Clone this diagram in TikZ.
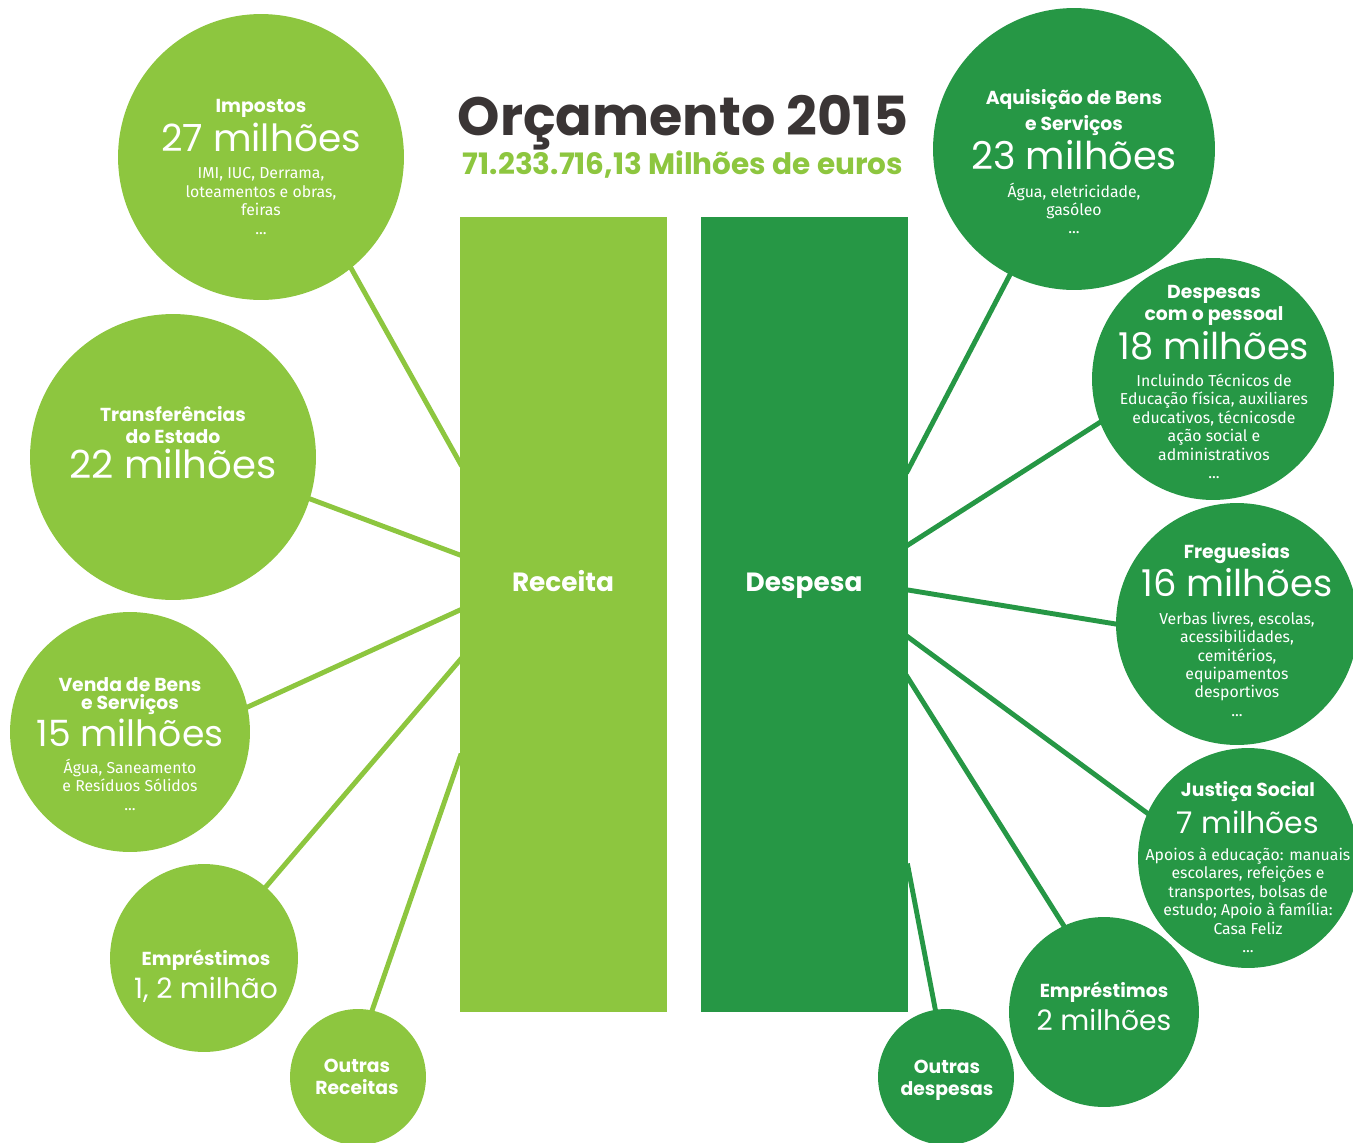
\documentclass[tikz,border=0pt]{standalone}
\usepackage{fontspec}
\setmainfont{Fira Sans}
\newfontfamily\geofont{Poppins}
\usetikzlibrary{backgrounds}

\definecolor{lgreen}{RGB}{141,198,63}
\definecolor{dgreen}{RGB}{38,151,69}
\definecolor{tgray}{RGB}{58,53,53}

\newcommand{\hd}[1]{{\geofont\bfseries\fontsize{10.7}{12.5}\selectfont #1}}
\newcommand{\amt}[2][21]{{\geofont\fontsize{#1}{#1}\selectfont #2}}

\tikzset{
  bub/.style={circle, inner sep=0pt, minimum size=#1*0.04cm},
  lbub/.style={bub=#1, fill=lgreen},
  dbub/.style={bub=#1, fill=dgreen},
  column/.style={rectangle, inner sep=0pt, minimum width=4.14cm, minimum height=15.9cm},
  txt/.style={text=white, align=center, inner sep=0pt, font=\fontsize{9}{10.5}\selectfont},
  colname/.style={text=white, anchor=base, font=\geofont\bfseries\fontsize{15}{18}\selectfont},
  lspoke/.style={draw=lgreen, line width=2.8pt, shorten <=-3pt, shorten >=-2pt},
  dspoke/.style={draw=dgreen, line width=2.8pt, shorten <=-3pt, shorten >=-2pt}
}

\begin{document}
\begin{tikzpicture}[x=0.02cm, y=-0.02cm]
\useasboundingbox (0,0) rectangle (1353,1143);

% title
\node[anchor=base, text=tgray, font=\geofont\bfseries\fontsize{30.7}{36}\selectfont] (tit) at (683,135) {Orçamento 2015};
\node[anchor=base, text=lgreen, font=\geofont\bfseries\fontsize{16.8}{20}\selectfont] (sub) at (683,174) {71.233.716,13 Milhões de euros};

% columns
\node[column, fill=lgreen] (rec) at (563.5,614.5) {};
\node[column, fill=dgreen] (des) at (804.5,614.5) {};
\node[colname] (trec) at (563,591) {Receita};
\node[colname] (tdes) at (804,591) {Despesa};

% receita
\node[lbub=143] (imp) at (261,157) {};
\node[lbub=143] (tra) at (173,457) {};
\node[lbub=120] (ven) at (130,732) {};
\node[lbub=94] (emr) at (204,958) {};
\node[lbub=68] (our) at (358,1077) {};

\node[txt] (timp) at (261,167) {\hd{Impostos}\\[2pt] \amt[21.3]{27 milhões}\\[5pt] IMI, IUC, Derrama,\\ loteamentos e obras,\\ feiras\\ ...};
\node[txt] (ttra) at (173,443) {\hd{Transferências}\\[2pt] \hd{do Estado}\\[2pt] \amt[22]{22 milhões}};
\node[txt] (tven) at (130,744) {\hd{Venda de Bens}\\ \hd{e Serviços}\\[1pt] \amt[20.6]{15 milhões}\\[5pt] Água, Saneamento\\ e Resíduos Sólidos\\ ...};
\node[txt] (temr) at (206,976) {\hd{Empréstimos}\\[3pt] \amt[16]{1, 2 milhão}};
\node[txt] (tour) at (357,1077) {\hd{Outras}\\[2pt] \hd{Receitas}};

% despesa
\node[dbub=141] (aqu) at (1074,149) {};
\node[dbub=121] (pes) at (1213,379) {};
\node[dbub=121] (fre) at (1237,624) {};
\node[dbub=110] (jus) at (1248,858) {};
\node[dbub=95] (emd) at (1104,1012) {};
\node[dbub=68] (oud) at (946,1077) {};

\node[txt] (taqu) at (1074,162) {\hd{Aquisição de Bens}\\[2pt] \hd{e Serviços}\\[2pt] \amt[21.8]{23 milhões}\\[5pt] Água, eletricidade,\\ gasóleo\\ ...};
\node[txt] (tpes) at (1214,382) {\hd{Despesas}\\[1pt] \hd{com o pessoal}\\[2pt] \amt{18 milhões}\\[5pt] Incluindo Técnicos de\\ Educação física, auxiliares\\ educativos, técnicosde\\ ação social e\\ administrativos\\ ...};
\node[txt] (tfre) at (1237,630) {\hd{Freguesias}\\[2pt] \amt{16 milhões}\\[5pt] Verbas livres, escolas,\\ acessibilidades,\\ cemitérios,\\ equipamentos\\ desportivos\\ ...};
\node[txt] (tjus) at (1248,867) {\hd{Justiça Social}\\[4pt] \amt[17]{7 milhões}\\[5pt] Apoios à educação: manuais\\ escolares, refeições e\\ transportes, bolsas de\\ estudo; Apoio à família:\\ Casa Feliz\\ ...};
\node[txt] (temd) at (1104,1006) {\hd{Empréstimos}\\[3pt] \amt[16]{2 milhões}};
\node[txt] (toud) at (947,1080) {\hd{Outras}\\[2pt] \hd{despesas}};

% spoke ends on the columns
\coordinate (r1) at (460,463);
\coordinate (r2) at (460,555);
\coordinate (r3) at (460,610);
\coordinate (r4) at (460,660);
\coordinate (r5) at (460,757);
\coordinate (d1) at (908,470);
\coordinate (d2) at (908,545);
\coordinate (d3) at (908,590);
\coordinate (d4) at (908,637);
\coordinate (d5) at (908,678);
\coordinate (d6) at (908,867);

\begin{pgfonlayer}{background}
\draw[lspoke] (imp.-51) -- (r1);
\draw[lspoke] (tra.-17) -- (r2);
\draw[lspoke] (ven.12) -- (r3);
\draw[lspoke] (emr.49) -- (r4);
\draw[lspoke] (our.78) -- (r5);
\draw[dspoke] (aqu.-117) -- (d1);
\draw[dspoke] (pes.201.6) -- (d2);
\draw[dspoke] (fre.180) -- (d3);
\draw[dspoke] (jus.156) -- (d4);
\draw[dspoke] (emd.115) -- (d5);
\draw[dspoke] (oud.99) -- (d6);
\end{pgfonlayer}
\end{tikzpicture}
\end{document}
